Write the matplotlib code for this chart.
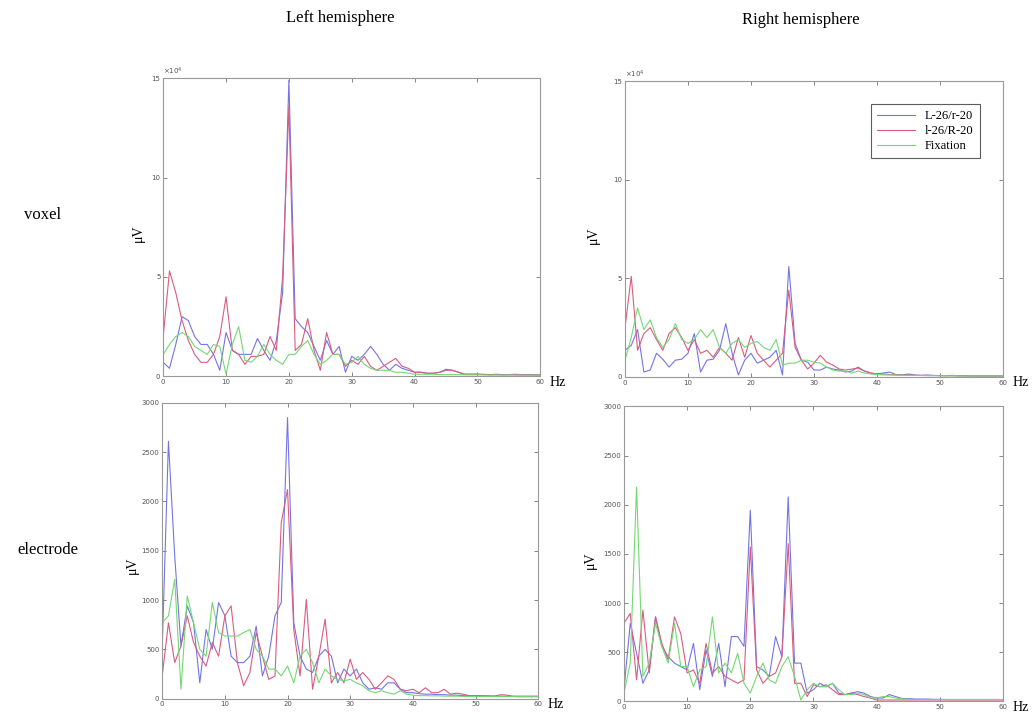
#!/usr/bin/env python

"""
Power spectra, voxel vs electrode, left and right hemisphere
"""

import matplotlib.pyplot as plt
import numpy as np

freqs = np.arange(0, 61)
labels = ['L-26/r-20', 'l-26/R-20', 'Fixation']

# voxel, left hemisphere (x 10^4)
vox_left_blue = [0.7, 0.4, 1.6, 3.0, 2.8, 2.0, 1.6, 1.6, 1.1, 0.3,
                 2.2, 1.3, 1.1, 1.1, 1.1, 1.9, 1.3, 0.8, 1.8, 4.2,
                 14.9, 2.9, 2.5, 2.2, 1.5, 0.8, 1.8, 1.1, 1.5, 0.2,
                 1.0, 0.8, 1.1, 1.5, 1.1, 0.6, 0.3, 0.6, 0.4, 0.3,
                 0.2, 0.2, 0.15, 0.15, 0.2, 0.35, 0.3, 0.2, 0.1, 0.1,
                 0.1, 0.1, 0.08, 0.1, 0.08, 0.08, 0.1, 0.08, 0.08, 0.07, 0.07]
vox_left_red = [2.0, 5.3, 4.2, 2.8, 1.8, 1.1, 0.7, 0.7, 1.1, 2.0,
                4.0, 1.3, 1.1, 0.6, 1.0, 1.0, 1.1, 2.0, 1.3, 5.0,
                13.6, 1.3, 1.6, 2.9, 1.3, 0.3, 2.2, 1.1, 1.1, 0.5,
                0.8, 0.6, 1.0, 0.5, 0.3, 0.5, 0.7, 0.9, 0.5, 0.4,
                0.2, 0.2, 0.15, 0.15, 0.2, 0.3, 0.3, 0.2, 0.1, 0.1,
                0.1, 0.08, 0.08, 0.08, 0.07, 0.08, 0.07, 0.07, 0.07, 0.06, 0.06]
vox_left_green = [1.1, 1.6, 2.0, 2.2, 2.0, 1.5, 1.3, 1.1, 1.6, 1.5,
                  0.1, 1.6, 2.5, 0.8, 0.7, 1.0, 1.6, 1.1, 0.8, 0.6,
                  1.1, 1.1, 1.5, 1.8, 1.1, 0.6, 0.8, 1.1, 1.1, 0.6,
                  0.7, 1.0, 0.6, 0.4, 0.3, 0.3, 0.3, 0.2, 0.2, 0.15,
                  0.1, 0.1, 0.1, 0.1, 0.08, 0.08, 0.08, 0.08, 0.07, 0.07,
                  0.07, 0.07, 0.06, 0.06, 0.06, 0.06, 0.06, 0.05, 0.05, 0.05, 0.05]

# voxel, right hemisphere (x 10^4)
vox_right_blue = [1.35, 1.6, 2.4, 0.25, 0.35, 1.2, 0.9, 0.5, 0.85, 0.9,
                  1.2, 2.2, 0.25, 0.85, 0.9, 1.35, 2.7, 1.2, 0.1, 0.85,
                  1.2, 0.7, 0.85, 1.0, 1.35, 0.1, 5.6, 1.7, 0.85, 0.75,
                  0.35, 0.35, 0.5, 0.4, 0.35, 0.25, 0.3, 0.5, 0.3, 0.2,
                  0.15, 0.2, 0.25, 0.12, 0.1, 0.15, 0.1, 0.08, 0.1, 0.08,
                  0.07, 0.07, 0.08, 0.06, 0.06, 0.06, 0.05, 0.05, 0.05, 0.05, 0.05]
vox_right_red = [2.5, 5.1, 1.35, 2.2, 2.5, 1.9, 1.35, 2.2, 2.5, 2.0,
                 1.35, 1.9, 1.2, 1.35, 1.0, 1.5, 1.2, 0.85, 2.0, 1.0,
                 2.1, 1.2, 0.85, 0.5, 0.85, 1.2, 4.4, 1.5, 0.85, 0.4,
                 0.7, 1.1, 0.75, 0.6, 0.4, 0.35, 0.4, 0.45, 0.3, 0.2,
                 0.15, 0.15, 0.12, 0.1, 0.1, 0.1, 0.08, 0.08, 0.07, 0.07,
                 0.07, 0.06, 0.06, 0.06, 0.05, 0.05, 0.05, 0.05, 0.05, 0.05, 0.05]
vox_right_green = [0.85, 2.0, 3.5, 2.4, 2.9, 2.0, 1.5, 1.9, 2.7, 1.9,
                   1.7, 1.9, 2.4, 2.0, 2.4, 1.5, 1.2, 1.7, 1.9, 1.5,
                   1.7, 1.8, 1.5, 1.35, 1.9, 0.6, 0.7, 0.7, 0.85, 0.85,
                   0.75, 0.7, 0.5, 0.35, 0.3, 0.3, 0.2, 0.3, 0.2, 0.15,
                   0.12, 0.1, 0.1, 0.1, 0.08, 0.08, 0.08, 0.07, 0.07, 0.07,
                   0.06, 0.06, 0.06, 0.05, 0.05, 0.05, 0.05, 0.05, 0.05, 0.05, 0.05]

# electrode, left hemisphere
ele_left_blue = [500, 2610, 1445, 535, 940, 770, 160, 700, 500, 975,
                 840, 430, 365, 365, 430, 735, 230, 430, 840, 975,
                 2850, 770, 430, 300, 265, 430, 500, 430, 160, 300,
                 230, 300, 160, 95, 110, 95, 160, 160, 95, 60,
                 60, 50, 45, 45, 40, 40, 35, 35, 30, 30,
                 28, 28, 25, 25, 25, 22, 22, 20, 20, 20, 20]
ele_left_red = [230, 770, 365, 535, 840, 570, 430, 330, 570, 430,
                840, 940, 365, 130, 265, 670, 430, 195, 230, 1785,
                2120, 700, 230, 1005, 95, 430, 805, 160, 265, 160,
                400, 195, 265, 195, 95, 160, 230, 195, 95, 80,
                95, 60, 110, 60, 60, 95, 45, 55, 45, 30,
                30, 28, 28, 25, 40, 35, 25, 25, 25, 25, 25]
ele_left_green = [770, 840, 1210, 95, 1040, 770, 500, 430, 975, 670,
                  635, 635, 635, 670, 700, 500, 430, 300, 300, 230,
                  330, 160, 430, 500, 365, 160, 300, 230, 195, 180,
                  195, 160, 130, 80, 60, 80, 60, 45, 80, 45,
                  35, 30, 30, 28, 28, 25, 25, 25, 22, 22,
                  20, 20, 20, 20, 20, 20, 20, 20, 20, 20, 20]

# electrode, right hemisphere
ele_right_blue = [120, 795, 490, 185, 320, 860, 560, 455, 390, 355,
                  320, 590, 120, 525, 255, 590, 150, 660, 660, 560,
                  1945, 355, 320, 255, 660, 455, 2080, 390, 390, 85,
                  120, 185, 150, 185, 85, 70, 85, 100, 85, 50,
                  35, 35, 70, 50, 30, 30, 25, 25, 25, 22,
                  22, 20, 20, 20, 20, 20, 20, 20, 20, 20, 20]
ele_right_red = [795, 895, 220, 930, 290, 860, 590, 420, 860, 690,
                 290, 320, 185, 590, 290, 355, 255, 220, 185, 220,
                 1570, 320, 185, 255, 290, 455, 1605, 185, 185, 50,
                 170, 150, 170, 120, 70, 70, 85, 70, 50, 35,
                 15, 15, 15, 15, 15, 15, 15, 15, 15, 15,
                 15, 15, 15, 15, 15, 15, 15, 15, 15, 15, 15]
ele_right_green = [85, 390, 2180, 255, 390, 795, 560, 390, 795, 355,
                   355, 150, 320, 355, 860, 290, 390, 290, 490, 185,
                   85, 255, 390, 220, 185, 355, 455, 255, 15, 120,
                   185, 150, 150, 185, 120, 70, 70, 85, 70, 35,
                   35, 50, 50, 35, 25, 25, 20, 20, 20, 20,
                   20, 20, 20, 20, 20, 20, 20, 20, 20, 20, 20]

colors = ['#7474e6', '#d95c80', '#74d874']

# rect, series, ymax, tick step, scaled by 10^4, ylabel position
panels = [
    ([0.158, 0.476, 0.365, 0.415], [vox_left_blue, vox_left_red, vox_left_green], 15, 5, True, (-0.048, 0.48)),
    ([0.605, 0.475, 0.366, 0.412], [vox_right_blue, vox_right_red, vox_right_green], 15, 5, True, (-0.066, 0.48)),
    ([0.157, 0.027, 0.364, 0.412], [ele_left_blue, ele_left_red, ele_left_green], 3000, 500, False, (-0.062, 0.45)),
    ([0.604, 0.023, 0.367, 0.411], [ele_right_blue, ele_right_red, ele_right_green], 3000, 500, False, (-0.072, 0.48)),
]

fig = plt.figure(figsize=(10.33, 7.18), dpi=100)
serif = 'Liberation Serif'

axes = []
for rect, series, ymax, ystep, scaled, lab_xy in panels:
    ax = fig.add_axes(rect)
    for vals, col, lab in zip(series, colors, labels):
        ax.plot(freqs, vals, color=col, lw=0.8, label=lab)
    ax.set_xlim(0, 60)
    ax.set_ylim(0, ymax)
    ax.set_xticks(range(0, 61, 10))
    ax.set_yticks(np.arange(0, ymax + 1, ystep))
    ax.tick_params(direction='in', length=3, width=0.5, labelsize=5,
                   colors='#555555', top=True, right=True, pad=2)
    for sp in ax.spines.values():
        sp.set_color('#999999')
        sp.set_linewidth(0.8)
    ax.set_ylabel('μV', family=serif, fontsize=10)
    ax.yaxis.set_label_coords(*lab_xy)
    ax.text(1.025, -0.02, 'Hz', transform=ax.transAxes, family=serif,
            fontsize=10, ha='left', va='center')
    if scaled:
        ax.text(0.0, 1.005, r'$\times 10^4$', transform=ax.transAxes,
                fontsize=5, color='#555555', ha='left', va='bottom')
    axes.append(ax)

leg = axes[1].legend(loc='upper right', bbox_to_anchor=(0.955, 0.945),
                     prop={'family': serif, 'size': 9}, fancybox=False,
                     handlelength=3.0, borderpad=0.5, labelspacing=0.25)
leg.get_frame().set_edgecolor('#333333')
leg.get_frame().set_linewidth(0.8)

fig.text(0.329, 0.975, 'Left hemisphere', family=serif, fontsize=12, ha='center', va='center')
fig.text(0.775, 0.972, 'Right hemisphere', family=serif, fontsize=12, ha='center', va='center')
fig.text(0.023, 0.70, 'voxel', family=serif, fontsize=12, ha='left', va='center')
fig.text(0.017, 0.234, 'electrode', family=serif, fontsize=12, ha='left', va='center')

plt.savefig('out.png', dpi=100)
plt.close()
